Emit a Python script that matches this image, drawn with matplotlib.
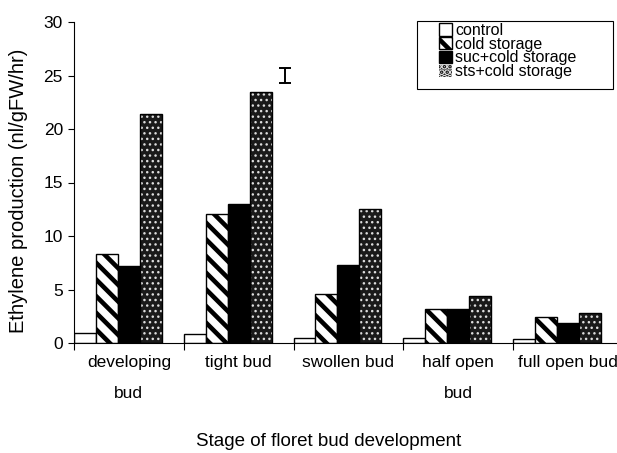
import matplotlib
matplotlib.use('Agg')
import matplotlib.pyplot as plt
from matplotlib.patches import Rectangle
import numpy as np

plt.rcParams['font.family'] = ['Liberation Sans', 'DejaVu Sans']

# data
stages = ['developing\nbud', 'tight bud', 'swollen bud', 'half open\nbud', 'full open bud']
series_names = ['control', 'cold storage', 'suc+cold storage', 'sts+cold storage']
control = [0.95, 0.8, 0.5, 0.5, 0.35]
cold = [8.35, 12.1, 4.55, 3.15, 2.45]
suc = [7.2, 13.0, 7.25, 3.15, 1.9]
sts = [21.4, 23.5, 12.55, 4.4, 2.8]
lsd_center = 25.0
lsd_half = 0.7

fig = plt.figure(figsize=(6.17, 4.53), dpi=100)
ax = fig.add_axes([74 / 617, 1 - 343 / 453, 548.75 / 617, 321 / 453])

x = np.arange(len(stages))
w = 0.2

def set_hlw(bars, lw):
    for p in bars:
        if hasattr(p, 'set_hatch_linewidth'):
            p.set_hatch_linewidth(lw)

b1 = ax.bar(x, control, w, align='edge', facecolor='white', edgecolor='black',
            linewidth=1.0, label=series_names[0])
plt.rcParams['hatch.linewidth'] = 3.3
b2 = ax.bar(x + w, cold, w, align='edge', facecolor='white', edgecolor='black',
            hatch='\\\\', linewidth=1.0, label=series_names[1])
set_hlw(b2, 3.3)
b3 = ax.bar(x + 2 * w, suc, w, align='edge', facecolor='black', edgecolor='black',
            linewidth=1.0, label=series_names[2])
b4 = ax.bar(x + 3 * w, sts, w, align='edge', facecolor='#1a1a1a', edgecolor='#dddddd',
            hatch='...', linewidth=0, label=series_names[3])
set_hlw(b4, 1.0)
ax.bar(x + 3 * w, sts, w, align='edge', fill=False, edgecolor='black', linewidth=1.0)

# LSD bar
ax.errorbar([1.92], [lsd_center], yerr=[lsd_half], fmt='none', ecolor='black',
            elinewidth=1.4, capsize=4.5, capthick=1.4)

ax.set_xlim(0, 5)
ax.set_ylim(0, 30)
ax.set_yticks(np.arange(0, 31, 5))
ax.set_xticks(np.arange(0, 6))
ax.set_xticklabels([])
ax.tick_params(axis='y', direction='out', length=4, width=0.8, labelsize=12.5, pad=4)
ax.tick_params(axis='x', direction='out', length=5, width=0.8)
for s in ['top', 'right']:
    ax.spines[s].set_visible(False)
for s in ['left', 'bottom']:
    ax.spines[s].set_linewidth(0.8)

for i, lab in enumerate(stages):
    ax.text(i + 0.5, -0.037, lab, transform=ax.get_xaxis_transform(), ha='center',
            va='top', fontsize=12.5, linespacing=2.35)

fig.text(329 / 617, 1 - 441 / 453, 'Stage of floret bud development', ha='center',
         va='center', fontsize=13.5)
fig.text(19 / 617, 1 - 191 / 453, 'Ethylene production (nl/gFW/hr)', ha='center',
         va='center', rotation=90, fontsize=14.5)

# legend with a hand-drawn frame (wide left margin like the original)
fig.patches.append(Rectangle((417 / 617, 1 - 89 / 453), 196 / 617, 68 / 453,
                             transform=fig.transFigure, fill=False,
                             edgecolor='black', linewidth=0.8))
leg = ax.legend(loc='upper left', bbox_to_anchor=(439 / 617, 1 - 23 / 453),
                bbox_transform=fig.transFigure, fontsize=11.5, frameon=False,
                borderpad=0, labelspacing=-0.08, handlelength=0.8,
                handleheight=0.8, handletextpad=0.2, borderaxespad=0)

fig.savefig('out.png', dpi=100)
